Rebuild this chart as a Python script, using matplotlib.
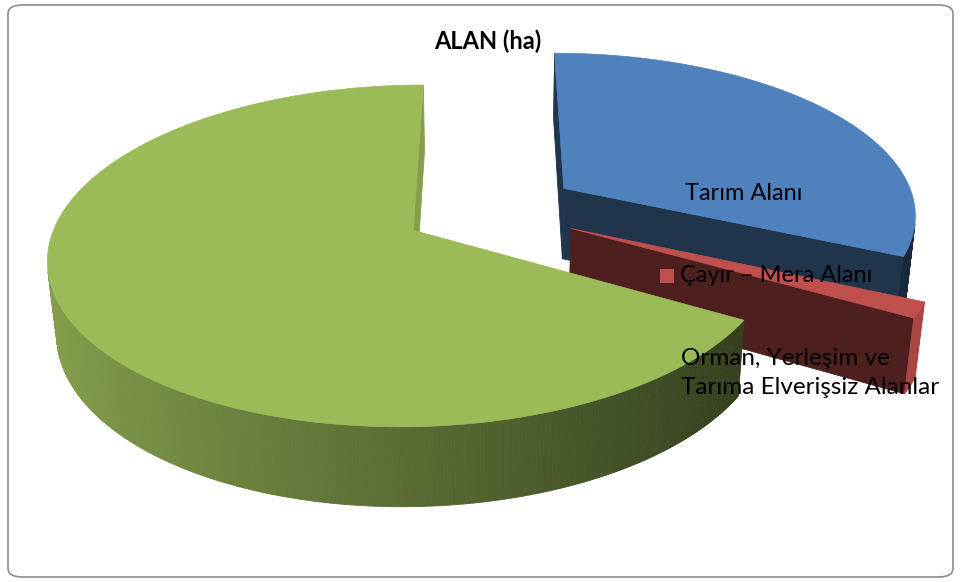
import numpy as np
import matplotlib.pyplot as plt
from matplotlib.collections import PolyCollection
from matplotlib.patches import FancyBboxPatch, Rectangle
import matplotlib.colors as mcolors

plt.rcParams['font.family'] = ['Lato', 'DejaVu Sans']

# data (share of area, ha)
labels = ['Tarım Alanı', 'Çayır – Mera Alanı',
          'Orman, Yerleşim ve\nTarıma Elverişsiz Alanlar']
values = [31.8, 1.5, 66.7]
colors = ['#4F81BD', '#C0504D', '#9BBB59']
title = 'ALAN (ha)'

# 3d view settings (excel-like perspective pie)
elev = np.radians(30)
dist = 6.0
depth = 0.24
explode = 0.25
Rx, Ry = 346, 336
cx, cy = 491, 281
cam = np.array([0.0, -dist * np.cos(elev), dist * np.sin(elev)])
wall_tint = [None, 0.88, None]   # excel lights the thin red wall


def project(u, v, z):
    y0 = v * np.sin(elev) + z * np.cos(elev)
    d = v * np.cos(elev) - z * np.sin(elev)
    s = dist / (dist + d)
    return cx + Rx * u * s, cy - Ry * y0 * s


def shade(col, f):
    rgb = np.array(mcolors.to_rgb(col))
    return tuple(np.clip(rgb * f, 0, 1))


def visible(pt, normal):
    return np.dot(normal, cam - pt) > 0


fig = plt.figure(figsize=(9.61, 5.82), dpi=100)
ax = fig.add_axes([0, 0, 1, 1])
ax.set_xlim(0, 961)
ax.set_ylim(582, 0)
ax.axis('off')

fracs = np.array(values) / sum(values)
starts = 90 - 360 * np.concatenate([[0], np.cumsum(fracs)[:-1]])
ends = starts - 360 * fracs
mids = np.radians((starts + ends) / 2)
offs = [(explode * np.cos(m), explode * np.sin(m)) for m in mids]

# back slices first
order = sorted(range(len(values)), key=lambda i: -offs[i][1])

for i in order:
    col = colors[i]
    ou, ov = offs[i]
    t1, t2 = np.radians(starts[i]), np.radians(ends[i])
    n = max(int(abs(starts[i] - ends[i]) * 2), 4)
    th = np.linspace(t1, t2, n)
    polys, fcs = [], []

    # radial (cut) faces
    for t, nrm in [(t1, (-np.sin(t1), np.cos(t1), 0)),
                   (t2, (np.sin(t2), -np.cos(t2), 0))]:
        mid_pt = np.array([ou + 0.5 * np.cos(t), ov + 0.5 * np.sin(t), depth / 2])
        if visible(mid_pt, np.array(nrm)):
            pts = [(ou, ov, 0), (ou, ov, depth),
                   (ou + np.cos(t), ov + np.sin(t), depth),
                   (ou + np.cos(t), ov + np.sin(t), 0)]
            polys.append([project(*p) for p in pts])
            fcs.append(shade(col, 0.85 if nrm[0] > 0.7 else 0.4))

    # outer wall
    for a, b in zip(th[:-1], th[1:]):
        m = (a + b) / 2
        pt = np.array([ou + np.cos(m), ov + np.sin(m), depth / 2])
        if visible(pt, np.array([np.cos(m), np.sin(m), 0])):
            pts = [(ou + np.cos(a), ov + np.sin(a), depth),
                   (ou + np.cos(b), ov + np.sin(b), depth),
                   (ou + np.cos(b), ov + np.sin(b), 0),
                   (ou + np.cos(a), ov + np.sin(a), 0)]
            polys.append([project(*p) for p in pts])
            f = wall_tint[i] if wall_tint[i] else 0.58 - 0.28 * np.cos(m)
            fcs.append(shade(col, f))

    pc = PolyCollection(polys, facecolors=fcs, edgecolors=fcs, linewidths=0.6)
    ax.add_collection(pc)

    # top face
    top = [project(ou, ov, depth)] + [project(ou + np.cos(t), ov + np.sin(t), depth) for t in th]
    ax.add_patch(plt.Polygon(top, closed=True, fc=col, ec=col, lw=0.5))

# data labels
ax.text(744, 194, labels[0], fontsize=17, ha='center', va='center')
ax.add_patch(Rectangle((660, 269), 14, 14, fc=colors[1], ec='none'))
ax.text(680, 276, labels[1], fontsize=17, ha='left', va='center')
ax.add_patch(Rectangle((660, 348), 14, 14, fc=colors[2], ec='none'))
ax.text(681, 373, labels[2], fontsize=17.5, ha='left', va='center', linespacing=1.45)

ax.text(488, 41, title, fontsize=17, fontweight='bold', ha='center', va='center')

fig.patches.append(FancyBboxPatch((8 / 961, 5 / 582), 945 / 961, 572 / 582,
                                  boxstyle='round,pad=0,rounding_size=0.015',
                                  transform=fig.transFigure, fc='none',
                                  ec='#8c8c8c', lw=1.2))

fig.savefig('out.png', dpi=100)
